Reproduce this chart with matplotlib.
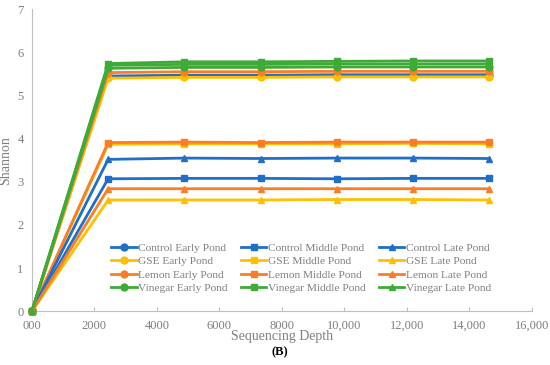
import matplotlib.pyplot as plt

plt.rcParams['font.family'] = ['Liberation Serif', 'DejaVu Serif']

depth = [0, 2440, 4880, 7320, 9760, 12200, 14640]

control_early = [0, 5.45, 5.47, 5.47, 5.48, 5.48, 5.48]
control_middle = [0, 3.07, 3.08, 3.08, 3.07, 3.08, 3.08]
control_late = [0, 3.52, 3.55, 3.54, 3.55, 3.55, 3.54]
gse_early = [0, 5.40, 5.42, 5.42, 5.43, 5.43, 5.43]
gse_middle = [0, 3.87, 3.88, 3.88, 3.88, 3.89, 3.88]
gse_late = [0, 2.58, 2.58, 2.58, 2.59, 2.59, 2.58]
lemon_early = [0, 5.53, 5.55, 5.55, 5.56, 5.56, 5.56]
lemon_middle = [0, 3.91, 3.92, 3.91, 3.92, 3.92, 3.92]
lemon_late = [0, 2.84, 2.84, 2.84, 2.84, 2.84, 2.84]
vinegar_early = [0, 5.63, 5.65, 5.65, 5.66, 5.66, 5.66]
vinegar_middle = [0, 5.74, 5.78, 5.78, 5.79, 5.80, 5.80]
vinegar_late = [0, 5.70, 5.72, 5.72, 5.73, 5.73, 5.73]

xtick_vals = [0, 2000, 4000, 6000, 8000, 10000, 12000, 14000, 16000]
xtick_labels = ['000', '2000', '4000', '6000', '8000', '10,000', '12,000', '14,000', '16,000']

blue = '#1f6fc9'
yellow = '#ffc000'
orange = '#fb7d26'
green = '#3eaa38'

series = [
    ('Control Early Pond', control_early, blue, 'o'),
    ('GSE Early Pond', gse_early, yellow, 'o'),
    ('Lemon Early Pond', lemon_early, orange, 'o'),
    ('Vinegar Early Pond', vinegar_early, green, 'o'),
    ('Control Middle Pond', control_middle, blue, 's'),
    ('GSE Middle Pond', gse_middle, yellow, 's'),
    ('Lemon Middle Pond', lemon_middle, orange, 's'),
    ('Vinegar Middle Pond', vinegar_middle, green, 's'),
    ('Control Late Pond', control_late, blue, '^'),
    ('GSE Late Pond', gse_late, yellow, '^'),
    ('Lemon Late Pond', lemon_late, orange, '^'),
    ('Vinegar Late Pond', vinegar_late, green, '^'),
]

fig = plt.figure(figsize=(5.5, 3.65), dpi=100)
ax = fig.add_axes([0.058, 0.147, 0.909, 0.828])

for name, vals, col, mk in series:
    ax.plot(depth, vals, color=col, marker=mk, markersize=5, linewidth=2,
            label=name, clip_on=False, zorder=3)

ax.set_xlim(0, 16000)
ax.set_ylim(0, 7)
ax.set_xticks(xtick_vals)
ax.set_xticklabels(xtick_labels)
ax.set_yticks(range(0, 8))

gray = '#7f7f7f'
for s in ['top', 'right']:
    ax.spines[s].set_visible(False)
for s in ['left', 'bottom']:
    ax.spines[s].set_color('#bfbfbf')
ax.tick_params(axis='x', direction='in', length=3, color='#bfbfbf', labelsize=9, labelcolor=gray, pad=6)
ax.tick_params(axis='y', direction='out', length=0, labelsize=9, labelcolor=gray, pad=6)

ax.set_ylabel('Shannon', color=gray, fontsize=10, labelpad=4)
ax.set_xlabel('Sequencing Depth', color=gray, fontsize=10, labelpad=-1)

leg = ax.legend(ncol=3, loc='lower left', bbox_to_anchor=(0.15, 0.045), frameon=False,
                fontsize=8.2, labelcolor=gray, handlelength=2.2, handletextpad=0.15,
                columnspacing=1.2, labelspacing=0.3, borderaxespad=0)

fig.text(0.508, 0.035, '(B)', fontsize=9, fontweight='bold', ha='center', va='center')

fig.savefig('out.png', dpi=100)
